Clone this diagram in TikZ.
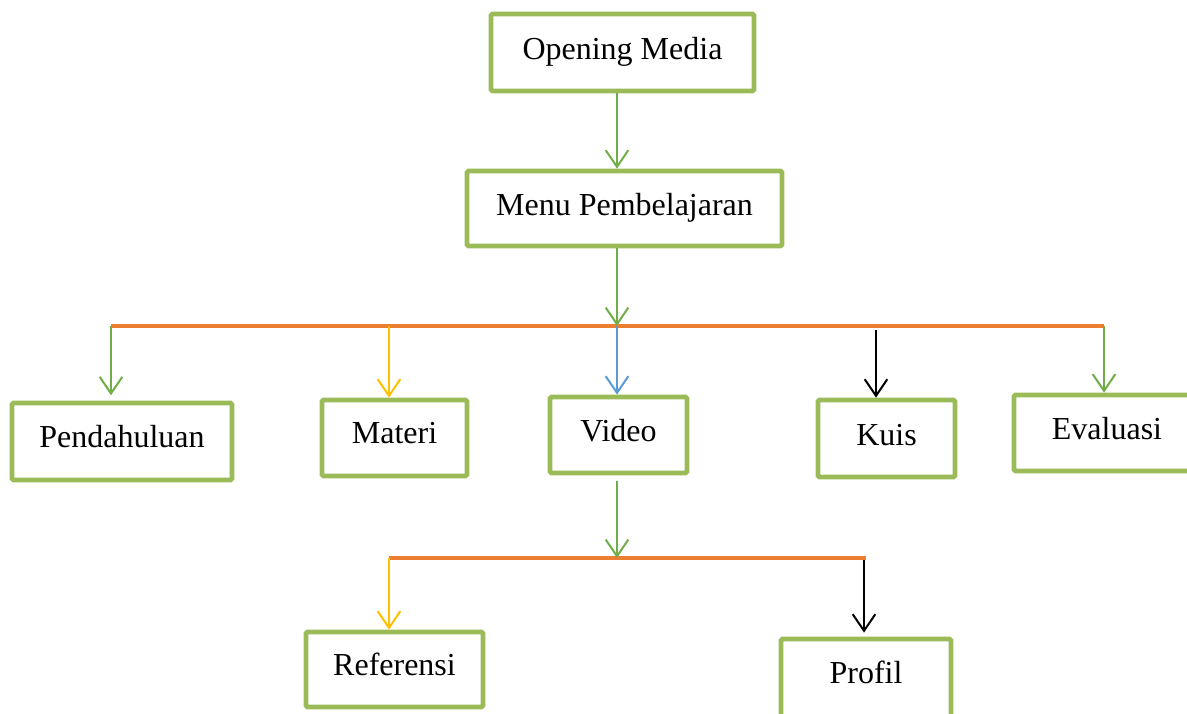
\documentclass[tikz,border=0pt]{standalone}
\usepackage{fontspec}
\setmainfont{Liberation Serif}
\usetikzlibrary{arrows.meta}
\definecolor{boxgreen}{HTML}{9BBB59}
\definecolor{argreen}{HTML}{70AD47}
\definecolor{busorange}{HTML}{ED7D31}
\definecolor{aryellow}{HTML}{FFC000}
\definecolor{arblue}{HTML}{5B9BD5}
\tikzset{
  boxnode/.style={draw=boxgreen, line width=3.6pt, rounded corners=1.2pt, fill=white,
    font=\fontsize{24}{28}\selectfont, inner sep=0pt, align=center, text height=16pt},
  tdepth/.style={text depth=#1},
  conn/.style={line width=1.5pt, -{Straight Barb[length=12.5pt,width=17pt,line width=1.5pt]}},
  bus/.style={draw=busorange, line width=3pt},
}
\begin{document}
\begin{tikzpicture}[x=0.75pt,y=-0.75pt]
\useasboundingbox (0,0) rectangle (1187,713);
\clip (0,0) rectangle (1187,713);
% boxes
\node[boxnode, tdepth=5pt, minimum width=197.25pt, minimum height=57.75pt] (open) at (622.5,52.5) {Opening Media};
\node[boxnode, tdepth=5pt, minimum width=236.25pt, minimum height=56.25pt] (menu) at (624.5,208.5) {Menu Pembelajaran};
\node[boxnode, tdepth=7.5pt, minimum width=165pt, minimum height=57.75pt] (pend) at (122,441.5) {Pendahuluan};
\node[boxnode, tdepth=7.5pt, minimum width=108.75pt, minimum height=57pt] (materi) at (394.5,438) {Materi};
\node[boxnode, tdepth=6pt, minimum width=102.75pt, minimum height=57pt] (video) at (618.5,435) {Video};
\node[boxnode, tdepth=6pt, minimum width=102.75pt, minimum height=57.75pt] (kuis) at (886.5,438.5) {Kuis};
\node[boxnode, tdepth=6pt, minimum width=139.5pt, minimum height=57pt] (eval) at (1107,433) {Evaluasi};
\node[boxnode, tdepth=7.5pt, minimum width=132.75pt, minimum height=56.25pt] (ref) at (394.5,669.5) {Referensi};
\node[boxnode, tdepth=9pt, minimum width=127.5pt, minimum height=59.25pt] (prof) at (866,678.5) {Profil};
% bus coordinates
\coordinate (bL) at (111,326);
\coordinate (bA) at (389,326);
\coordinate (bM) at (617,326);
\coordinate (bK) at (876,330);
\coordinate (bR) at (1104,326);
\coordinate (cL) at (389,558);
\coordinate (cM) at (617,558);
\coordinate (cR) at (866,558);
\coordinate (cK) at (864,560);
% buses
\draw[bus] (bL) -- (bR);
\draw[bus] (cL) -- (cR);
% connectors
\draw[conn, argreen] (open.south -| bM) -- (menu.north -| bM);
\draw[conn, argreen] (menu.south -| bM) -- (bM);
\draw[conn, argreen, shorten >=4pt] (bL) -- (pend.north -| bL);
\draw[conn, aryellow] (bA) -- (materi.north -| bA);
\draw[conn, arblue] (bM) -- (video.north -| bM);
\draw[conn, black] (bK) -- (kuis.north -| bK);
\draw[conn, argreen] (bR) -- (eval.north -| bR);
\draw[conn, argreen, shorten <=4pt] (video.south -| cM) -- (cM);
\draw[conn, aryellow] (cL) -- (ref.north -| cL);
\draw[conn, black, shorten >=3pt] (cK) -- (prof.north -| cK);
\end{tikzpicture}
\end{document}
